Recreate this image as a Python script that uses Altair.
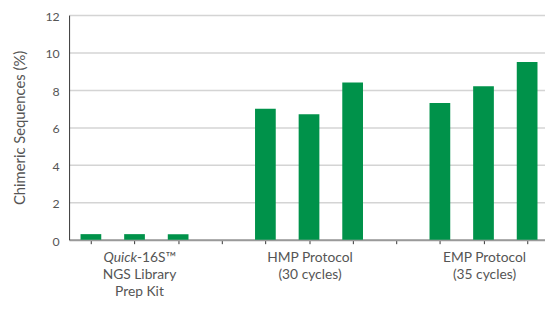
import altair as alt
import pandas as pd

# ---- data ----
slots = ["Q1", "Q2", "Q3", "gap1", "H1", "H2", "H3", "gap2", "E1", "E2", "E3"]
bar_slots = ["Q1", "Q2", "Q3", "H1", "H2", "H3", "E1", "E2", "E3"]
values = [0.3, 0.3, 0.3, 7.0, 6.7, 8.4, 7.3, 8.2, 9.5]
label_slots = ["Q2", "Q2", "H2", "H2", "E2", "E2"]
label_lines = [2, 3, 1, 2, 1, 2]
label_text = ["NGS Library", "Prep Kit", "HMP Protocol", "(30 cycles)",
              "EMP Protocol", "(35 cycles)"]
quick_italic = ["Quick"]
quick_rest = ["-16S\u2122"]
y_ticks = [0, 2, 4, 6, 8, 10, 12]

GREEN = "#00924A"
FONT = "Lato"
TXT = "#555555"

bars_df = pd.DataFrame({"slot": bar_slots, "value": values})
labels_df = pd.DataFrame({"slot": label_slots, "line": label_lines, "text": label_text})
qi_df = pd.DataFrame({"slot": ["Q2"], "text": quick_italic})
qr_df = pd.DataFrame({"slot": ["Q2"], "text": quick_rest})

W, H = 483, 228
XR = 487  # band range runs a little past the cropped right edge
P = 0.525
FS = 14
LH = 17
D1 = 12

yscale = alt.Scale(domain=[0, 12], nice=False)
yaxis = alt.Axis(values=y_ticks, title="Chimeric Sequences (%)",
                 titleFont=FONT, titleFontSize=15, titleFontWeight="normal",
                 titleColor=TXT, titlePadding=18,
                 labelFont=FONT, labelFontSize=12.5, labelColor=TXT,
                 labelPadding=10, labelOffset=1.5, ticks=False,
                 domainColor="#333333", domainWidth=1,
                 grid=True, gridColor="#d4d4d4", gridWidth=1.5)

bars = alt.Chart(bars_df).mark_bar(color=GREEN).encode(
    x=alt.X("slot:N", sort=slots,
            scale=alt.Scale(domain=slots, range=[0, XR],
                            paddingInner=P, paddingOuter=P / 2),
            axis=None),
    y=alt.Y("value:Q", scale=yscale, axis=yaxis),
)

xaxis = alt.Axis(title=None, labels=False, bandPosition=0, ticks=True,
                 tickSize=4, tickColor="#333333", tickWidth=1,
                 domainColor="#9a9a9a", domainWidth=2, grid=False)
xs = alt.Scale(domain=slots, range=[0, XR], paddingInner=0, paddingOuter=0)


def text_layer(df, align, dx, line, style="normal"):
    return alt.Chart(df).mark_text(
        font=FONT, fontSize=FS, color=TXT, align=align, baseline="top",
        dy=D1 + (line - 1) * LH, dx=dx, fontStyle=style
    ).encode(
        x=alt.X("slot:N", sort=slots, scale=xs, axis=xaxis),
        y=alt.Y(datum=0, scale=yscale, axis=yaxis),
        text="text:N",
    )


q_rows = labels_df[labels_df["slot"] == "Q2"]
o_rows = labels_df[labels_df["slot"] != "Q2"]
texts = [
    text_layer(o_rows[o_rows["line"] == 1], "center", 1, 1),
    text_layer(o_rows[o_rows["line"] == 2], "center", 1, 2),
    text_layer(q_rows[q_rows["line"] == 2], "center", 5, 2),
    text_layer(q_rows[q_rows["line"] == 3], "center", 5, 3),
    text_layer(qi_df, "right", 2.5, 1, "italic"),
    text_layer(qr_df, "left", 2.5, 1),
]

chart = alt.layer(bars, alt.layer(*texts)).resolve_scale(x="independent").properties(
    width=W, height=H,
    autosize=alt.AutoSizeParams(type="none"),
    padding={"left": 62, "top": 5, "right": 0, "bottom": 63},
).configure_view(stroke=None)

chart.save("out.html", embed_options={"renderer": "svg", "actions": False})
